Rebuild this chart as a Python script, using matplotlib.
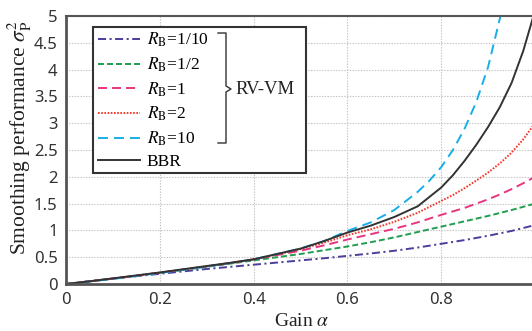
import matplotlib
matplotlib.use("Agg")
import matplotlib.pyplot as plt
from matplotlib.patches import Rectangle
from matplotlib.lines import Line2D

plt.rcParams['mathtext.fontset'] = 'stix'
plt.rcParams['lines.scale_dashes'] = False

# valores
alpha = [0, .05, .1, .15, .2, .25, .3, .35, .4, .45, .5, .55, .6, .65, .7, .75, .8,
         .825, .85, .875, .9, .925, .95, .975, 1.0]
r_01 = [0, .05, .10, .145, .19, .235, .28, .32, .36, .40, .44, .48, .525, .57, .62, .68, .75,
        .785, .82, .86, .90, .945, .99, 1.045, 1.10]
r_05 = [0, .05, .10, .155, .21, .265, .32, .38, .44, .50, .56, .63, .70, .78, .87, .97, 1.07,
        1.12, 1.17, 1.22, 1.27, 1.325, 1.38, 1.44, 1.50]
r_1 = [0, .05, .10, .155, .21, .27, .33, .39, .46, .54, .62, .72, .83, .93, 1.03, 1.15, 1.29,
       1.355, 1.42, 1.50, 1.58, 1.67, 1.77, 1.88, 2.00]
r_2 = [0, .05, .10, .155, .21, .27, .33, .39, .46, .55, .65, .77, .91, 1.02, 1.16, 1.33, 1.55,
       1.66, 1.79, 1.93, 2.08, 2.25, 2.45, 2.70, 3.00]
bbr = [0, .05, .105, .16, .215, .275, .335, .395, .46, .56, .66, .80, .96, 1.09, 1.25, 1.45, 1.80,
       2.03, 2.30, 2.60, 2.93, 3.30, 3.75, 4.35, 5.1]

alpha_r10 = [0, .05, .1, .15, .2, .25, .3, .35, .4, .45, .5, .55, .6, .65, .7, .75, .775, .8,
             .825, .85, .875, .9, .925, .94]
r_10 = [0, .045, .095, .15, .205, .265, .325, .39, .46, .56, .66, .80, .99, 1.15, 1.38, 1.72, 1.93, 2.18,
        2.5, 2.9, 3.4, 4.05, 4.95, 5.6]

rotulos = [r"$R_\mathrm{B}$=1/10", r"$R_\mathrm{B}$=1/2", r"$R_\mathrm{B}$=1",
           r"$R_\mathrm{B}$=2", r"$R_\mathrm{B}$=10", "BBR"]

W, H = 532, 331
fig = plt.figure(figsize=(W / 100, H / 100), dpi=100)
ax = fig.add_axes([66 / W, 1 - 284 / H, (535 - 66) / W, (284 - 16) / H])

lw = 1.4
l1, = ax.plot(alpha, r_01, color='#4a3f9c', lw=lw, linestyle=(0, (5.8, 2.5, 1.5, 2.5)))
l2, = ax.plot(alpha, r_05, color='#1e9e4e', lw=lw, linestyle=(0, (4.3, 2.2)))
l3, = ax.plot(alpha, r_1, color='#e8357e', lw=lw, linestyle=(0, (6.5, 3.6)))
l4, = ax.plot(alpha, r_2, color='#f23a2c', lw=lw, linestyle=(0, (1.2, 1.1)))
l5, = ax.plot(alpha_r10, r_10, color='#17aeea', lw=lw, linestyle=(0, (7.2, 4.3)))
l6, = ax.plot(alpha, bbr, color='#333333', lw=lw)

ax.set_xlim(0, 1)
ax.set_ylim(0, 5)
ax.set_xticks([0, 0.2, 0.4, 0.6, 0.8, 1])
ax.set_xticklabels(['0', '0.2', '0.4', '0.6', '0.8', '1'])
ax.set_yticks([0, 0.5, 1, 1.5, 2, 2.5, 3, 3.5, 4, 4.5, 5])
ax.set_yticklabels(['0', '0.5', '1', '1.5', '2', '2.5', '3', '3.5', '4', '4.5', '5'])
ax.tick_params(length=0, labelsize=12, colors='#333333', pad=6)
for lab in ax.get_xticklabels() + ax.get_yticklabels():
    lab.set_fontfamily('Noto Sans')
ax.grid(True, color='#c4c4c4', linestyle=(0, (1, 1)), lw=0.8)
for s in ['left', 'bottom']:
    ax.spines[s].set_color('#555555')
    ax.spines[s].set_linewidth(2)
ax.spines['top'].set_color('#555555')
ax.spines['top'].set_linewidth(1.5)
ax.spines['right'].set_visible(False)

fig.text(302 / W, 1 - 322 / H, r"Gain $\alpha$", family='Liberation Serif', fontsize=14,
         ha='center', va='center', color='#222222')
fig.text(20 / W, 1 - 138 / H, r"Smoothing performance $\sigma_\mathrm{P}^2$", family='Liberation Serif',
         fontsize=15.5, rotation=90, ha='center', va='center', color='#222222')

# caixa da legenda
ax.add_patch(Rectangle((93 / W, 1 - 173 / H), (306 - 93) / W, (173 - 27) / H, transform=fig.transFigure,
                       facecolor='white', edgecolor='#333333', lw=1.5, zorder=5, clip_on=False))
leg = ax.legend([l1, l2, l3, l4, l5, l6], rotulos, loc='upper left', bbox_to_anchor=(98 / W, 1 - 31 / H),
                bbox_transform=fig.transFigure, frameon=False, prop={'family': 'Liberation Serif', 'size': 12.5},
                handlelength=2.4, handletextpad=0.4, labelspacing=0.36, borderpad=0, borderaxespad=0)
leg.set_zorder(6)

# chave "}" do RV-VM
bx = 226 / W
chave = Line2D([218 / W, bx, bx, 231 / W, bx, bx, 218 / W],
               [1 - 33 / H, 1 - 33 / H, 1 - 86 / H, 1 - 89 / H, 1 - 92 / H, 1 - 143 / H, 1 - 143 / H],
               transform=fig.transFigure, color='#333333', lw=1.0, zorder=7)
fig.add_artist(chave)
fig.text(235 / W, 1 - 89 / H, "RV-VM", family='Liberation Serif', fontsize=13.5,
         ha='left', va='center', color='#222222', zorder=7)

fig.savefig('out.png', dpi=100)
